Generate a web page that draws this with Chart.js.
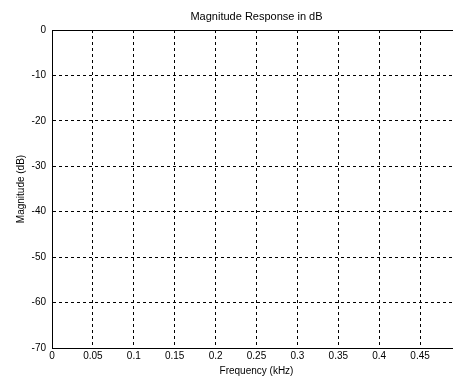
<!DOCTYPE html>
<html lang="en">
<head>
    <meta charset="UTF-8">
    <title>Magnitude Response in dB</title>
    <script src="https://cdn.jsdelivr.net/npm/chart.js@4.4.1/dist/chart.umd.min.js"></script>
    <style>
        html, body { margin: 0; padding: 0; background: #fff; overflow: hidden; }
        .wrap { position: relative; width: 470px; height: 377px; }
    </style>
</head>
<body>
    <div class="wrap">
        <canvas id="magChart"></canvas>
    </div>

    <script>
        // axis ticks
        const freqTicks = [0, 0.05, 0.1, 0.15, 0.2, 0.25, 0.3, 0.35, 0.4, 0.45, 0.5];
        const dbTicks = [0, -10, -20, -30, -40, -50, -60, -70];
        // no response curve is visible in the plot
        const freqValues = [];
        const magValues = [];

        const font = { family: 'Arial, "Liberation Sans", sans-serif', size: 10 };
        const dashGrid = {
            color: '#000',
            lineWidth: 1,
            tickLength: 0,
            drawTicks: false
        };

        const ctx = document.getElementById('magChart').getContext('2d');
        new Chart(ctx, {
            type: 'line',
            data: {
                datasets: [{
                    data: freqValues.map((f, i) => ({ x: f, y: magValues[i] })),
                    borderColor: '#0000ff',
                    borderWidth: 1,
                    pointRadius: 0
                }]
            },
            options: {
                responsive: true,
                maintainAspectRatio: false,
                animation: false,
                layout: { padding: { left: 0, right: 9, top: 0, bottom: 0 } },
                plugins: {
                    legend: { display: false },
                    tooltip: { enabled: false }
                },
                scales: {
                    x: {
                        type: 'linear',
                        position: 'bottom',
                        min: 0,
                        max: 0.5,
                        afterBuildTicks: s => { s.ticks = freqTicks.map(v => ({ value: v })); },
                        afterFit: s => { s.height = 29; },
                        ticks: {
                            color: '#000',
                            font: font,
                            padding: 2,
                            maxRotation: 0,
                            autoSkip: false,
                            callback: v => String(v)
                        },
                        grid: dashGrid,
                        // in v4 border.dash sets the grid line dashes
                        border: { display: true, color: '#000', width: 1, dash: [3, 3] },
                        title: {
                            display: true,
                            text: 'Frequency (kHz)',
                            color: '#000',
                            font: font,
                            padding: { top: 0, bottom: 0 }
                        }
                    },
                    xTop: {
                        type: 'linear',
                        position: 'top',
                        min: 0,
                        max: 0.5,
                        afterFit: s => { s.height = 30; },
                        ticks: { display: false },
                        grid: { display: false },
                        border: { display: true, color: '#000', width: 1 },
                        title: {
                            display: true,
                            text: 'Magnitude Response in dB',
                            color: '#000',
                            font: { family: font.family, size: 11 },
                            padding: { top: 10, bottom: 4 }
                        }
                    },
                    y: {
                        type: 'linear',
                        min: -70,
                        max: 0,
                        afterBuildTicks: s => { s.ticks = dbTicks.map(v => ({ value: v })); },
                        afterFit: s => { s.width = 52; },
                        ticks: {
                            color: '#000',
                            font: font,
                            padding: 6,
                            autoSkip: false,
                            callback: v => String(v)
                        },
                        grid: dashGrid,
                        border: { display: true, color: '#000', width: 1, dash: [3, 3] },
                        title: {
                            display: true,
                            text: 'Magnitude (dB)',
                            color: '#000',
                            font: font,
                            padding: { top: 15, bottom: 4 }
                        }
                    }
                }
            }
        });
    </script>
</body>
</html>
